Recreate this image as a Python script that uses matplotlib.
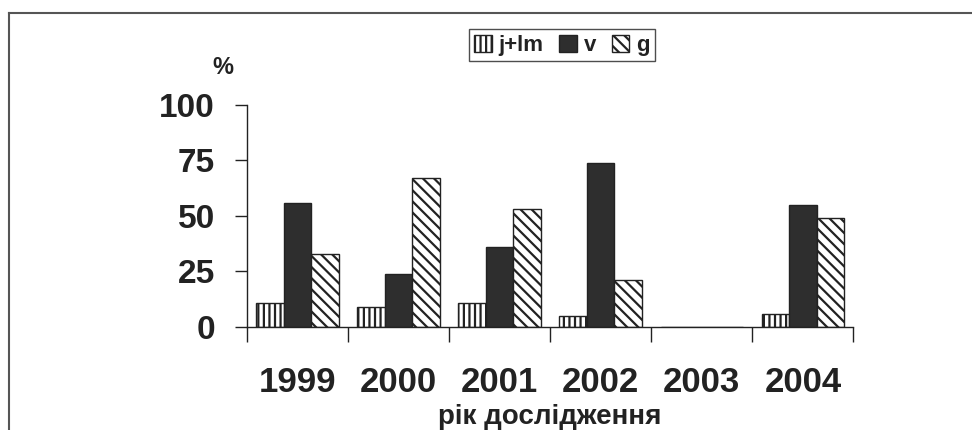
import numpy as np
import matplotlib
matplotlib.use("Agg")
import matplotlib.pyplot as plt
from matplotlib.lines import Line2D

plt.rcParams['font.family'] = ['Liberation Sans', 'DejaVu Sans']
plt.rcParams['hatch.linewidth'] = 1.6

years = ["1999", "2000", "2001", "2002", "2003", "2004"]
jlm = [11, 9, 11, 5, 0, 6]
v = [56, 24, 36, 74, 0, 55]
g = [33, 67, 53, 21, 0, 49]
series_names = ["j+lm", "v", "g"]

ink = "#222222"

fig = plt.figure(figsize=(9.72, 4.30), dpi=100)
ax = fig.add_axes([0.254, 0.2395, 0.624, 0.5165])

x = np.arange(len(years))
w = 0.272
styles = [
    dict(facecolor="white", hatch="|||"),
    dict(facecolor="#2e2e2e", hatch=""),
    dict(facecolor="white", hatch="\\\\\\"),
]
for k, (vals, st) in enumerate(zip([jlm, v, g], styles)):
    ax.bar(x + (k - 1) * w, vals, width=w, edgecolor=ink, linewidth=1.0,
           label=series_names[k], **st)

ax.set_xlim(-0.5, len(years) - 0.5)
ax.set_ylim(0, 100)
ax.set_yticks([0, 25, 50, 75, 100])
ax.set_yticklabels(["0", "25", "50", "75", "100"], fontsize=24, fontweight="bold", color=ink)
ax.tick_params(axis="y", direction="out", length=9, width=1.0, color=ink, pad=14)

# group boundary ticks (unlabelled) and year labels at centres
ax.set_xticks(np.arange(len(years) + 1) - 0.5)
ax.set_xticklabels([])
ax.set_xticks(x, minor=True)
ax.set_xticklabels(years, minor=True, fontsize=25, fontweight="bold", color=ink)
ax.tick_params(axis="x", which="major", direction="out", length=11, width=1.0, color=ink)
ax.tick_params(axis="x", which="minor", length=0, pad=28)

for s in ["top", "right"]:
    ax.spines[s].set_visible(False)
for s in ["left", "bottom"]:
    ax.spines[s].set_color(ink)
    ax.spines[s].set_linewidth(1.0)

fig.text(0.229, 0.843, "%", fontsize=17, fontweight="bold", color=ink, ha="center", va="center")
fig.text(0.566, 0.030, "рік дослідження", fontsize=20, fontweight="bold", color=ink,
         ha="center", va="center")

leg = fig.legend(loc="center", bbox_to_anchor=(0.578, 0.895), ncol=3,
                 prop=dict(weight="bold", size=16), frameon=True, fancybox=False,
                 handlelength=0.8, handleheight=0.8, handletextpad=0.3, columnspacing=0.7,
                 borderpad=0.25)
leg.get_frame().set_edgecolor(ink)
leg.get_frame().set_linewidth(1.0)
for t in leg.get_texts():
    t.set_color(ink)

# outer frame: left and top edges only
fig.add_artist(Line2D([0.0093, 0.0093], [0.0, 0.970], transform=fig.transFigure, color="#555555", lw=1.5))
fig.add_artist(Line2D([0.0093, 1.0], [0.970, 0.970], transform=fig.transFigure, color="#555555", lw=1.5))

fig.savefig("out.png", dpi=100)
